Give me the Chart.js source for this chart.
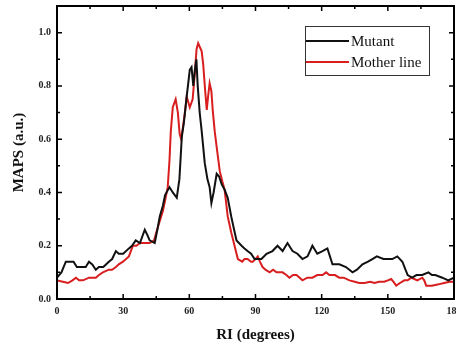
<!DOCTYPE html>
<html>
<head>
<meta charset="utf-8">
<script src="https://cdn.jsdelivr.net/npm/chart.js@4/dist/chart.umd.min.js"></script>
<style>
  html, body { margin: 0; padding: 0; background: #fff; }
  #wrap { width: 456px; height: 348px; }
</style>
</head>
<body>
<div id="wrap"><canvas id="chart" width="456" height="348"></canvas></div>
<script>
// RI (degrees) positions and MAPS values
var mutantX = [0, 2, 4, 6, 7.5, 9, 11, 13, 14.5, 16, 17.6, 19, 21, 23.5, 25, 26.7, 28, 30, 32.6, 34, 35.7, 37.6, 39.8, 41, 42, 44.3, 45.5, 46.6, 48, 49, 51, 52.5, 54.3, 55.5, 56.6, 57.5, 58.8, 60.2, 61, 61.8, 62.5, 63.2, 63.8, 64.7, 65.6, 67, 68.2, 69.2, 70, 71, 72.4, 73.5, 74.7, 76, 77.4, 79, 80.3, 81.4, 83.7, 85, 86.4, 88, 89.6, 91, 92.7, 95, 97.7, 100, 102.3, 104.5, 106.8, 109, 111.3, 113.6, 115.8, 118, 120.4, 122.6, 124.9, 128, 131, 134, 136, 138.5, 141, 143, 145, 148, 150, 152, 154.3, 156.6, 158, 159, 161, 163, 165.6, 168.4, 170, 171.5, 174.7, 177.4, 180];
var mutantY = [0.08, 0.10, 0.14, 0.14, 0.14, 0.12, 0.12, 0.12, 0.14, 0.13, 0.11, 0.12, 0.12, 0.14, 0.15, 0.18, 0.17, 0.17, 0.19, 0.20, 0.22, 0.21, 0.26, 0.24, 0.22, 0.21, 0.26, 0.31, 0.35, 0.39, 0.42, 0.40, 0.38, 0.45, 0.61, 0.66, 0.76, 0.86, 0.87, 0.80, 0.86, 0.90, 0.80, 0.70, 0.63, 0.51, 0.45, 0.42, 0.36, 0.40, 0.47, 0.46, 0.43, 0.41, 0.38, 0.31, 0.26, 0.22, 0.20, 0.19, 0.18, 0.17, 0.15, 0.15, 0.15, 0.17, 0.18, 0.20, 0.18, 0.21, 0.18, 0.17, 0.15, 0.16, 0.20, 0.17, 0.18, 0.19, 0.13, 0.13, 0.12, 0.10, 0.11, 0.13, 0.14, 0.15, 0.16, 0.15, 0.15, 0.15, 0.16, 0.14, 0.11, 0.09, 0.08, 0.09, 0.09, 0.10, 0.09, 0.09, 0.08, 0.07, 0.08];

var motherX = [0, 2.7, 5, 7, 8.6, 10, 11.8, 14.5, 16, 17.6, 19, 20.8, 23.5, 25, 26.7, 28, 29.9, 32.6, 34.4, 36, 37.6, 40, 42, 44, 45, 46.5, 48, 49, 50.2, 51, 51.6, 52.5, 53.8, 54.8, 55.6, 56.3, 57, 58, 58.8, 60.2, 61.5, 62.5, 63.3, 64, 65.6, 66.3, 67.2, 67.9, 68.5, 69.2, 70, 70.6, 71.5, 72.4, 73.8, 75, 76, 77.4, 79, 80.5, 82, 84, 85, 86.4, 88, 88.7, 90, 91, 92, 93.2, 94.5, 96.4, 98, 99.5, 101, 102.3, 104, 105.4, 107, 108.6, 110, 111.3, 113.5, 115.8, 118, 120.4, 122, 123.5, 126, 128, 130, 132.6, 135, 137, 139.4, 142, 144, 146, 148.4, 150, 151.5, 152.5, 153.8, 155.5, 157.5, 159, 160.6, 162, 163.4, 165.6, 166.5, 167.4, 170, 173, 175.5, 178, 180];
var motherY = [0.07, 0.065, 0.06, 0.07, 0.08, 0.07, 0.07, 0.08, 0.08, 0.08, 0.09, 0.10, 0.11, 0.11, 0.12, 0.13, 0.14, 0.16, 0.20, 0.20, 0.21, 0.21, 0.21, 0.22, 0.25, 0.29, 0.33, 0.37, 0.42, 0.52, 0.63, 0.72, 0.75, 0.70, 0.62, 0.60, 0.64, 0.70, 0.76, 0.72, 0.75, 0.85, 0.94, 0.96, 0.93, 0.88, 0.78, 0.71, 0.76, 0.81, 0.78, 0.71, 0.63, 0.57, 0.48, 0.44, 0.41, 0.31, 0.25, 0.20, 0.15, 0.14, 0.15, 0.15, 0.14, 0.14, 0.15, 0.16, 0.14, 0.12, 0.11, 0.10, 0.11, 0.10, 0.10, 0.10, 0.09, 0.08, 0.09, 0.09, 0.08, 0.07, 0.08, 0.08, 0.09, 0.09, 0.10, 0.09, 0.09, 0.08, 0.08, 0.07, 0.065, 0.06, 0.06, 0.065, 0.06, 0.065, 0.065, 0.07, 0.075, 0.065, 0.05, 0.06, 0.07, 0.07, 0.08, 0.075, 0.07, 0.08, 0.07, 0.05, 0.05, 0.055, 0.06, 0.065, 0.065];

var seriesNames = ['Mutant', 'Mother line'];
var xTicks = [0, 30, 60, 90, 120, 150, 180];
var yTicks = [0, 0.2, 0.4, 0.6, 0.8, 1.0];
var xMinor = [15, 45, 75, 105, 135, 165];
var yMinor = [0.1, 0.3, 0.5, 0.7, 0.9, 1.1];

function pts(xs, ys) {
  return xs.map(function(x, i) { return { x: x, y: ys[i] }; });
}

var serif = '"Liberation Serif", "DejaVu Serif", serif';

// frame with inward ticks on all four sides
var framePlugin = {
  id: 'frame',
  afterDraw: function(chart) {
    var ctx = chart.ctx, a = chart.chartArea;
    var xs = chart.scales.x, ys = chart.scales.y;
    ctx.save();
    ctx.strokeStyle = '#000';
    ctx.lineWidth = 2;
    ctx.strokeRect(a.left, a.top, a.right - a.left, a.bottom - a.top);
    ctx.lineWidth = 1.5;
    ctx.beginPath();
    function xt(v, len) {
      var p = xs.getPixelForValue(v);
      ctx.moveTo(p, a.bottom); ctx.lineTo(p, a.bottom - len);
      ctx.moveTo(p, a.top); ctx.lineTo(p, a.top + len);
    }
    function yt(v, len) {
      var p = ys.getPixelForValue(v);
      ctx.moveTo(a.left, p); ctx.lineTo(a.left + len, p);
      ctx.moveTo(a.right, p); ctx.lineTo(a.right - len, p);
    }
    xTicks.forEach(function(v) { xt(v, 5); });
    xMinor.forEach(function(v) { xt(v, 3); });
    yTicks.forEach(function(v) { yt(v, 5); });
    yMinor.forEach(function(v) { yt(v, 3); });
    ctx.stroke();

    // legend box
    var lx = 305, ly = 26, lw = 124, lh = 49;
    ctx.fillStyle = '#fff';
    ctx.fillRect(lx, ly, lw, lh);
    ctx.lineWidth = 1;
    ctx.strokeStyle = '#333';
    ctx.strokeRect(lx + 0.5, ly + 0.5, lw, lh);
    ctx.font = '15px ' + serif;
    ctx.textBaseline = 'middle';
    chart.data.datasets.forEach(function(ds, i) {
      var yy = ly + 15 + i * 21;
      ctx.strokeStyle = ds.borderColor;
      ctx.lineWidth = 2;
      ctx.beginPath();
      ctx.moveTo(lx + 1, yy); ctx.lineTo(lx + 44, yy);
      ctx.stroke();
      ctx.fillStyle = '#111';
      ctx.fillText(ds.label, lx + 46, yy + 1);
    });
    ctx.restore();
  }
};

var ctx = document.getElementById('chart').getContext('2d');
new Chart(ctx, {
  type: 'line',
  data: {
    datasets: [{
      label: seriesNames[0],
      data: pts(mutantX, mutantY),
      borderColor: '#111111',
      borderWidth: 2,
      pointRadius: 0,
      tension: 0
    }, {
      label: seriesNames[1],
      data: pts(motherX, motherY),
      borderColor: '#d81e1e',
      borderWidth: 2,
      pointRadius: 0,
      tension: 0
    }]
  },
  options: {
    responsive: false,
    animation: false,
    layout: { padding: { top: 6, right: 2, left: 0, bottom: 0 } },
    plugins: { legend: { display: false }, tooltip: { enabled: false } },
    scales: {
      x: {
        type: 'linear',
        min: 0,
        max: 180,
        grid: { display: false, drawTicks: false },
        border: { display: false },
        afterBuildTicks: function(s) { s.ticks = xTicks.map(function(v) { return { value: v }; }); },
        afterFit: function(s) { s.height = 49; s.paddingLeft = 0; s.paddingRight = 0; },
        ticks: {
          autoSkip: false, maxRotation: 0, padding: 6, color: '#222',
          font: { family: serif, size: 10, weight: 'bold' }
        },
        title: {
          display: true, text: 'RI (degrees)', color: '#111',
          font: { family: serif, size: 15, weight: 'bold' },
          padding: { top: 0, bottom: 4 }
        }
      },
      y: {
        min: 0,
        max: 1.1,
        grid: { display: false, drawTicks: false },
        border: { display: false },
        afterBuildTicks: function(s) { s.ticks = yTicks.map(function(v) { return { value: v }; }); },
        afterFit: function(s) { s.width = 57; s.paddingTop = 0; s.paddingBottom = 0; },
        ticks: {
          padding: 6, color: '#222',
          font: { family: serif, size: 10, weight: 'bold' },
          callback: function(v) { return v.toFixed(1); }
        },
        title: {
          display: true, text: 'MAPS (a.u.)', color: '#111',
          font: { family: serif, size: 15, weight: 'bold' },
          padding: { top: 10, bottom: 0 }
        }
      }
    }
  },
  plugins: [framePlugin]
});
</script>
</body>
</html>
